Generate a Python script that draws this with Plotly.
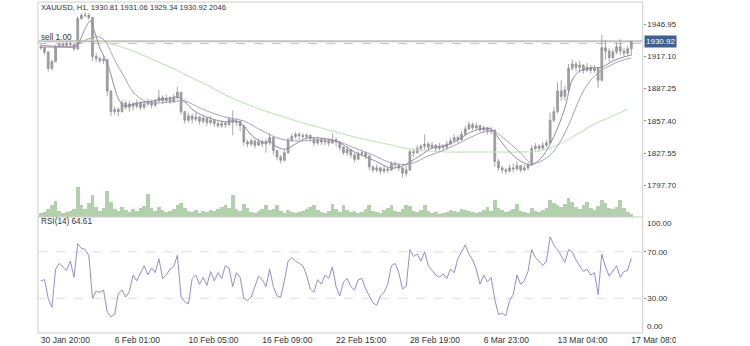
import plotly.graph_objects as go

# ---------------- data (5-hour sampling of H1 bars) -------------
BAR_HOURS = list(range(0, 801, 5))  # bar position counted in H1 bars

OPEN = [1926,1925,1921,1906,1912,1926,1928,1927,1929,1928,
        1924,1952,1955,1955,1953,1917,1915,1913,1914,1885,
        1866,1868,1866,1874,1870,1873,1871,1874,1870,1873,
        1875,1872,1876,1879,1876,1878,1875,1879,1884,1866,
        1858,1862,1859,1861,1857,1860,1856,1858,1855,1853,
        1855,1854,1859,1856,1857,1853,1838,1836,1839,1835,
        1838,1836,1838,1842,1830,1824,1821,1828,1840,1843,
        1845,1844,1843,1844,1841,1837,1840,1838,1839,1837,
        1840,1838,1833,1828,1831,1826,1822,1827,1828,1825,
        1815,1812,1814,1811,1813,1812,1818,1817,1814,1809,
        1812,1829,1828,1832,1834,1836,1833,1835,1832,1834,
        1833,1836,1839,1842,1840,1845,1850,1854,1851,1853,
        1849,1851,1848,1849,1820,1814,1812,1811,1814,1813,
        1816,1812,1814,1817,1832,1834,1832,1835,1837,1858,
        1866,1885,1880,1886,1906,1910,1907,1909,1904,1907,
        1904,1906,1895,1925,1922,1916,1921,1926,1922,1920,
        1924]

HIGH = [1928,1926,1922,1914,1928,1930,1930,1931,1931,1929,
        1954,1957,1958,1957,1953,1920,1917,1918,1914,1886,
        1871,1870,1877,1876,1876,1875,1877,1876,1876,1878,
        1877,1878,1886,1881,1882,1880,1882,1889,1884,1866,
        1865,1864,1865,1862,1863,1861,1862,1859,1857,1858,
        1857,1861,1867,1860,1858,1853,1840,1841,1840,1841,
        1840,1841,1846,1843,1830,1826,1831,1842,1846,1847,
        1847,1846,1846,1845,1841,1843,1842,1842,1841,1846,
        1842,1839,1834,1834,1831,1828,1829,1831,1829,1826,
        1816,1817,1815,1816,1815,1820,1820,1818,1815,1816,
        1831,1832,1835,1836,1845,1838,1838,1836,1837,1836,
        1839,1842,1845,1844,1848,1853,1857,1856,1856,1854,
        1853,1852,1852,1849,1822,1816,1814,1817,1818,1820,
        1816,1817,1819,1835,1837,1836,1838,1840,1865,1870,
        1893,1895,1890,1910,1914,1912,1913,1910,1911,1909,
        1909,1907,1937,1932,1925,1924,1930,1933,1925,1927,
        1931.06]

LOW = [1923,1918,1903,1904,1912,1925,1925,1926,1926,1922,
       1923,1951,1953,1951,1913,1912,1911,1910,1880,1862,
       1863,1862,1865,1868,1866,1867,1869,1867,1868,1871,
       1869,1870,1874,1873,1874,1873,1874,1877,1863,1855,
       1856,1855,1857,1854,1855,1853,1854,1852,1851,1851,
       1851,1853,1844,1853,1848,1835,1833,1834,1832,1834,
       1833,1828,1835,1826,1821,1818,1820,1827,1838,1841,
       1840,1840,1840,1838,1834,1835,1835,1835,1834,1836,
       1834,1830,1826,1825,1823,1819,1821,1825,1822,1812,
       1810,1810,1808,1809,1809,1811,1813,1811,1805,1806,
       1811,1824,1827,1829,1831,1830,1831,1829,1830,1830,
       1831,1835,1838,1837,1839,1844,1849,1849,1849,1847,
       1847,1845,1845,1815,1811,1809,1808,1810,1810,1811,
       1810,1811,1812,1816,1830,1829,1831,1833,1836,1856,
       1864,1876,1876,1884,1904,1903,1902,1901,1903,1901,
       1902,1888,1894,1914,1912,1914,1919,1918,1917,1918,
       1918]

CLOSE = [1925,1921,1906,1912,1926,1928,1927,1929,1928,1924,
         1952,1955,1955,1953,1917,1915,1913,1914,1885,1866,
         1868,1866,1874,1870,1873,1871,1874,1870,1873,1875,
         1872,1876,1879,1876,1878,1875,1879,1884,1866,1858,
         1862,1859,1861,1857,1860,1856,1858,1855,1853,1855,
         1854,1859,1856,1857,1853,1838,1836,1839,1835,1838,
         1836,1838,1842,1830,1824,1821,1828,1840,1843,1845,
         1844,1843,1844,1841,1837,1840,1838,1839,1837,1840,
         1838,1833,1828,1831,1826,1822,1827,1828,1825,1815,
         1812,1814,1811,1813,1812,1818,1817,1814,1809,1812,
         1829,1828,1832,1834,1836,1833,1835,1832,1834,1833,
         1836,1839,1842,1840,1845,1850,1854,1851,1853,1849,
         1851,1848,1849,1820,1814,1812,1811,1814,1813,1816,
         1812,1814,1817,1832,1834,1832,1835,1837,1858,1866,
         1885,1880,1886,1906,1910,1907,1909,1904,1907,1904,
         1906,1895,1925,1922,1916,1921,1926,1922,1920,1924,
         1930.92]

# tick volume, thousands
VOLUME = [2.6,3.3,5.2,7.8,10.4,3.9,2.6,3.3,3.9,5.2,
          19.5,7.8,5.2,9.1,14.3,6.5,3.9,5.9,16.9,9.8,
          5.2,3.9,6.5,4.6,3.3,5.2,3.9,5.9,7.2,15.0,
          5.9,3.9,6.5,4.6,3.3,3.9,5.2,7.8,9.1,5.9,
          3.9,3.3,4.6,2.6,3.9,3.3,4.6,3.9,5.2,6.5,
          7.8,5.9,14.3,5.2,3.9,8.5,5.9,3.3,2.6,3.9,
          5.2,7.8,4.6,5.2,7.8,3.9,2.6,4.6,3.3,2.6,
          3.3,3.9,5.2,6.5,7.8,4.6,3.3,2.6,3.9,8.5,
          5.2,3.3,7.8,4.6,3.3,3.9,2.6,3.3,5.2,7.8,
          3.9,3.3,2.6,4.6,5.9,7.8,3.9,3.3,5.2,7.8,
          7.2,3.9,3.3,4.6,7.8,3.9,2.6,3.3,2.0,2.6,
          3.3,4.6,3.9,3.3,5.2,4.6,3.9,3.3,2.6,3.3,
          4.6,6.5,3.9,11.1,5.9,4.6,3.3,3.9,5.2,8.5,
          3.9,3.3,2.6,5.9,3.9,3.3,4.6,5.9,11.1,9.1,
          7.8,6.5,8.5,12.4,9.8,6.5,5.2,7.8,9.8,5.9,
          4.6,7.2,11.1,9.1,5.9,5.2,6.5,11.1,5.9,3.3,
          2.0]

RSI = [45,46,30,22,55,60,57,54,62,48,
       77,73,72,67,30,36,35,37,18,14,
       16,34,37,31,36,50,45,52,58,50,
       56,52,64,47,50,55,57,67,31,27,
       25,47,50,42,48,41,53,45,52,47,
       58,56,40,52,48,30,28,31,40,49,
       46,40,55,40,32,31,45,62,65,62,
       60,58,50,38,35,46,42,50,47,57,
       40,32,44,47,40,37,46,47,38,32,
       26,24,32,35,42,58,60,52,38,40,
       72,66,68,62,70,58,54,50,48,51,
       47,55,52,64,70,76,68,63,55,42,
       50,44,48,29,16,17,15,28,33,50,
       42,45,53,72,65,62,58,62,83,76,
       72,66,61,72,70,63,58,53,55,50,
       52,33,68,57,49,54,58,48,53,54,
       64.61]

MA_FAST_HOURS = [0,25,45,50,58,67,73,80,88,94,100,106,113,125,150,175,186,195,208,225,
                 250,265,275,285,300,310,320,332,345,360,375,400,425,450,475,490,500,515,
                 530,550,565,580,595,610,620,635,650,665,680,695,710,720,730,745,760,775,790,800]
MA_FAST = [1925.7,1925.7,1925.7,1927.5,1939.6,1949.7,1939.6,1924.8,1913.7,1902.6,1887.8,
           1876.7,1871.2,1873.0,1875.8,1878.6,1879.5,1874.9,1866.6,1861.0,1856.4,1857.3,
           1852.7,1844.4,1837.9,1837.9,1833.3,1831.4,1836.1,1841.6,1841.6,1838.8,1828.7,
           1821.3,1813.9,1815.7,1819.4,1825.9,1832.4,1835.1,1839.8,1846.2,1849.9,1849.9,
           1841.6,1828.7,1820.3,1816.7,1825.0,1843.0,1869.3,1895.2,1903.5,1906.3,1907.2,
           1912.8,1916.5,1918.3]

MA_SLOW_HOURS = [0,45,55,68,80,88,100,113,125,138,150,175,195,210,225,250,275,300,325,350,
                 375,400,425,450,475,500,525,550,575,600,615,630,650,665,685,700,715,728,
                 740,755,770,785,800]
MA_SLOW = [1927.5,1926.6,1930.3,1934.0,1934.9,1930.3,1913.7,1898.0,1884.1,1876.7,1873.9,
           1874.9,1875.8,1871.2,1866.6,1861.0,1857.3,1848.1,1840.7,1838.8,1839.8,1838.8,
           1832.4,1825.9,1818.5,1817.6,1825.0,1831.4,1839.8,1847.1,1847.1,1839.8,1827.7,
           1818.5,1823.1,1834.2,1853.6,1874.9,1890.6,1901.7,1908.1,1912.8,1915.5]

MA_LONG_HOURS = [45,70,100,125,150,175,200,225,250,275,300,325,350,375,400,425,450,475,
                 500,525,550,600,650,675,700,725,750,775,795]
MA_LONG = [1930.3,1932.2,1927.5,1922.0,1914.6,1907.2,1898.9,1890.6,1881.3,1873.9,1867.5,
           1861.9,1856.4,1851.8,1847.1,1842.5,1838.8,1835.1,1831.4,1829.6,1828.7,1828.7,
           1828.7,1829.6,1835.1,1844.4,1854.5,1861.9,1868.4]

PRICE_TICKS = [1797.70, 1827.55, 1857.40, 1887.25, 1917.10, 1946.95]
RSI_TICKS = [30, 70]
DATE_TICK_HOURS = [0, 100, 200, 300, 400, 500, 600, 700, 800]
DATE_LABELS = ["30 Jan 20:00", "6 Feb 01:00", "10 Feb 05:00", "16 Feb 09:00", "22 Feb 15:00",
               "28 Feb 19:00", "6 Mar 23:00", "13 Mar 04:00", "17 Mar 08:00"]
LAST_PRICE = 1930.92
SELL_PRICE = 1930.92
ASK_LINE = 1928.9
TITLE = "XAUUSD, H1, 1930.81 1931.06 1929.34 1930.92 2046"

# ---------------- figure ----------------
W, H = 750, 346
def px(x):
    return x / W
def py(y):
    return 1 - y / H

GREY = "#929292"
TXT = "#333333"
FONT = "Liberation Sans, Arial, sans-serif"

fig = go.Figure()
fig.add_trace(go.Bar(x=BAR_HOURS, y=VOLUME, xaxis="x", yaxis="y3",
                     marker=dict(color="#b2d0ab", line=dict(width=0)),
                     hoverinfo="skip", showlegend=False))
fig.add_trace(go.Scatter(x=MA_LONG_HOURS, y=MA_LONG, mode="lines", line_shape="spline",
                         line=dict(color="#c4e2b8", width=1.1), xaxis="x", yaxis="y",
                         hoverinfo="skip", showlegend=False))
fig.add_trace(go.Scatter(x=MA_SLOW_HOURS, y=MA_SLOW, mode="lines", line_shape="spline",
                         line=dict(color="#ab9fba", width=1), xaxis="x", yaxis="y",
                         hoverinfo="skip", showlegend=False))
fig.add_trace(go.Scatter(x=MA_FAST_HOURS, y=MA_FAST, mode="lines", line_shape="spline",
                         line=dict(color="#9687a6", width=1), xaxis="x", yaxis="y",
                         hoverinfo="skip", showlegend=False))
fig.add_trace(go.Candlestick(x=BAR_HOURS, open=OPEN, high=HIGH, low=LOW, close=CLOSE,
                             increasing=dict(line=dict(color=GREY, width=0.8), fillcolor="#a3a3a3"),
                             decreasing=dict(line=dict(color=GREY, width=0.8), fillcolor="#a3a3a3"),
                             whiskerwidth=0, xaxis="x", yaxis="y",
                             hoverinfo="skip", showlegend=False))
fig.add_trace(go.Scatter(x=BAR_HOURS, y=RSI, mode="lines",
                         line=dict(color="#9090c8", width=1), xaxis="x2", yaxis="y2",
                         hoverinfo="skip", showlegend=False))

XR = [-3.86, 815.4]
XD = [px(40), px(677)]
fig.update_layout(
    width=W, height=H, margin=dict(l=0, r=0, t=0, b=0),
    paper_bgcolor="white", plot_bgcolor="white",
    font=dict(family=FONT, color=TXT, size=8),
    bargap=0,
    xaxis=dict(domain=XD, range=XR, anchor="y", showticklabels=False, showgrid=False,
               zeroline=False, showline=False, ticks="", rangeslider=dict(visible=False)),
    xaxis2=dict(domain=XD, range=XR, anchor="y2", showgrid=False, zeroline=False,
                showline=False, tickvals=DATE_TICK_HOURS, ticktext=DATE_LABELS,
                ticks="", ticklabelposition="outside right",
                tickfont=dict(size=8.5, color=TXT, family=FONT)),
    yaxis=dict(domain=[py(217), py(2)], range=[1768.6, 1967.3], anchor="x", side="right",
               showgrid=False, zeroline=False, showline=False,
               tickvals=PRICE_TICKS, ticktext=[f"{v:.2f}" for v in PRICE_TICKS],
               ticks="outside", ticklen=2, tickcolor="#888",
               tickfont=dict(size=8, color=TXT, family=FONT)),
    yaxis3=dict(domain=[py(217), py(185)], range=[0, 20.8], anchor="x", visible=False),
    yaxis2=dict(domain=[py(333), py(217)], range=[0, 100], anchor="x2", side="right",
                showgrid=False, zeroline=False, showline=False,
                tickvals=RSI_TICKS, ticktext=[f"{v:.2f}" for v in RSI_TICKS],
                ticks="outside", ticklen=2, tickcolor="#888",
                tickfont=dict(size=8, color=TXT, family=FONT)),
)

BORDER = "#cdcdcd"
shapes = [
    dict(type="rect", xref="paper", yref="paper", x0=px(40), x1=px(677), y0=py(333), y1=py(2),
         line=dict(color=BORDER, width=1), layer="above"),
    dict(type="line", xref="paper", yref="paper", x0=px(40), x1=px(677), y0=py(217), y1=py(217),
         line=dict(color=BORDER, width=1), layer="above"),
    dict(type="line", xref="paper", yref="y", x0=px(40), x1=px(677), y0=SELL_PRICE, y1=SELL_PRICE,
         line=dict(color="#c2c2c2", width=2), layer="below"),
    dict(type="line", xref="paper", yref="y", x0=px(40), x1=px(677), y0=ASK_LINE, y1=ASK_LINE,
         line=dict(color="#d9bcbc", width=1, dash="dash"), layer="below"),
]
for v in RSI_TICKS:
    shapes.append(dict(type="line", xref="paper", yref="y2", x0=px(40), x1=px(677), y0=v, y1=v,
                       line=dict(color="#dddddd", width=1, dash="dash"), layer="below"))
shapes.append(dict(type="rect", xref="paper", yref="paper", x0=px(712), x1=1, y0=0, y1=1,
                   fillcolor="white", line=dict(width=0), layer="above"))
fig.update_layout(shapes=shapes)

ann = [
    dict(text=TITLE, xref="paper", yref="paper", x=px(41), y=py(8), xanchor="left",
         yanchor="middle", showarrow=False, font=dict(size=7.6, color=TXT)),
    dict(text="sell 1.00", xref="paper", yref="y", x=px(41), y=SELL_PRICE, xanchor="left",
         yanchor="bottom", yshift=-3, showarrow=False, font=dict(size=8.2, color=TXT)),
    dict(text="RSI(14) 64.61", xref="paper", yref="paper", x=px(41), y=py(222), xanchor="left",
         yanchor="middle", showarrow=False, font=dict(size=8.2, color=TXT)),
    dict(text=f"{LAST_PRICE:.2f}", xref="paper", yref="y", x=px(678), y=LAST_PRICE,
         xanchor="left", yanchor="middle", showarrow=False, bgcolor="#3f5f93",
         borderpad=1, font=dict(size=8, color="white")),
    dict(text="100.00", xref="paper", yref="y2", x=px(679), y=100, xanchor="left",
         yanchor="top", showarrow=False, font=dict(size=8, color=TXT)),
    dict(text="0.00", xref="paper", yref="y2", x=px(679), y=0, xanchor="left",
         yanchor="bottom", showarrow=False, font=dict(size=8, color=TXT)),
]
fig.update_layout(annotations=ann)

fig.write_html("out.html")
